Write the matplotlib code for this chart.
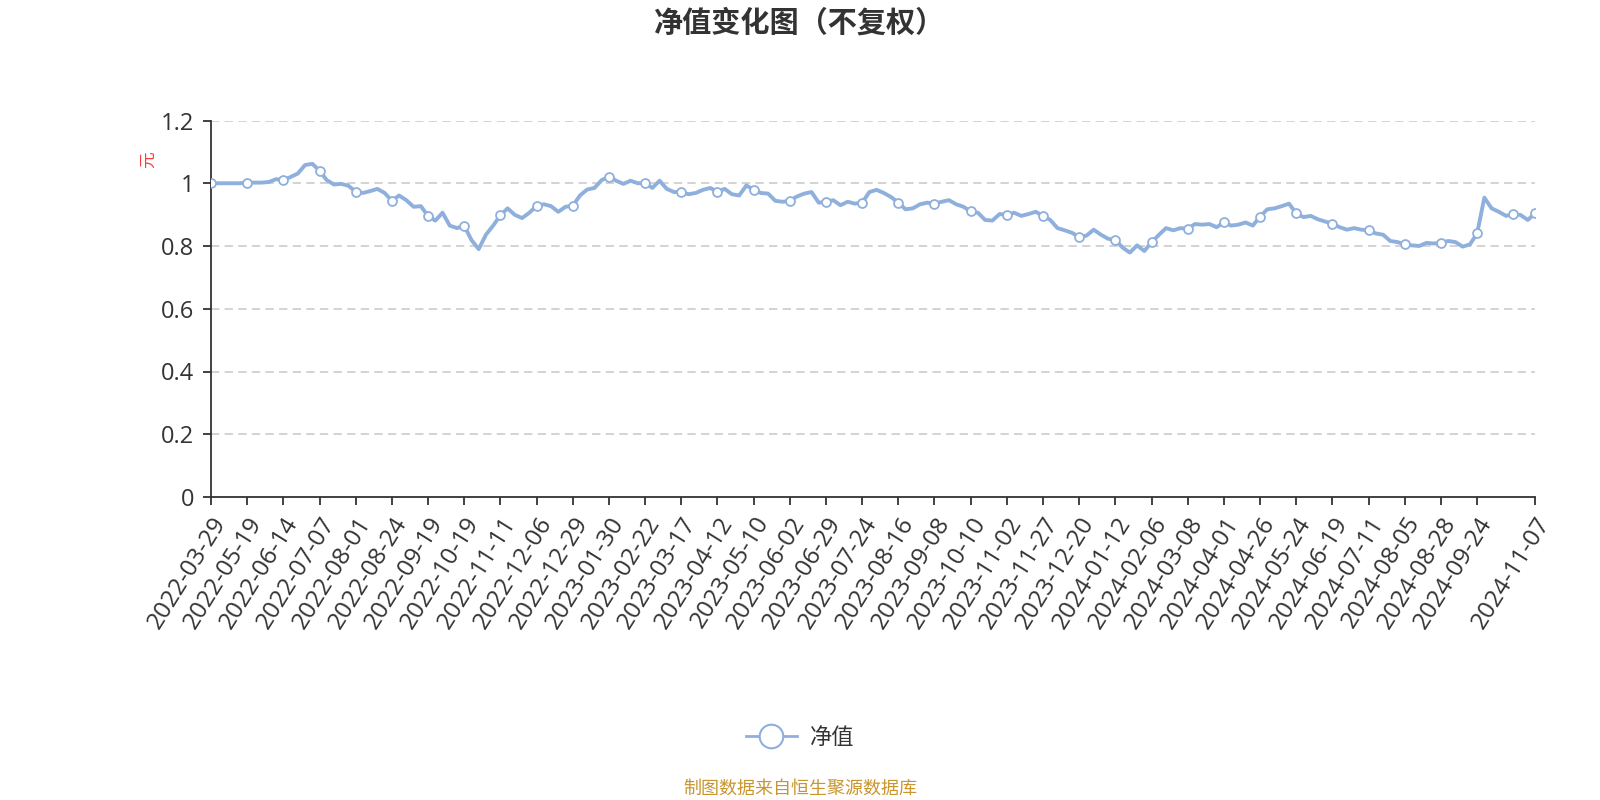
import matplotlib
matplotlib.use("Agg")
import matplotlib.pyplot as plt
from matplotlib.lines import Line2D
import numpy as np

plt.rcParams['font.family'] = ['Noto Sans CJK SC', 'DejaVu Sans']
plt.rcParams['lines.scale_dashes'] = False

title = "净值变化图（不复权）"
series_name = "净值"
y_unit = "元"
footer = "制图数据来自恒生聚源数据库"

tick_labels = [
    "2022-03-29", "2022-05-19", "2022-06-14", "2022-07-07", "2022-08-01", "2022-08-24",
    "2022-09-19", "2022-10-19", "2022-11-11", "2022-12-06", "2022-12-29", "2023-01-30",
    "2023-02-22", "2023-03-17", "2023-04-12", "2023-05-10", "2023-06-02", "2023-06-29",
    "2023-07-24", "2023-08-16", "2023-09-08", "2023-10-10", "2023-11-02", "2023-11-27",
    "2023-12-20", "2024-01-12", "2024-02-06", "2024-03-08", "2024-04-01", "2024-04-26",
    "2024-05-24", "2024-06-19", "2024-07-11", "2024-08-05", "2024-08-28", "2024-09-24",
    "2024-11-07",
]

nav = [
    1.0, 1.0, 1.0, 1.0, 1.0,
    1.002, 1.002, 1.002, 1.004, 1.013,
    1.01, 1.02, 1.031, 1.058, 1.062,
    1.04, 1.01, 0.996, 0.998, 0.992,
    0.973, 0.969, 0.975, 0.982, 0.969,
    0.944, 0.961, 0.946, 0.925, 0.927,
    0.896, 0.881, 0.906, 0.865, 0.857,
    0.865, 0.819, 0.79, 0.836, 0.865,
    0.898, 0.92, 0.899, 0.889, 0.906,
    0.928, 0.933, 0.927, 0.909, 0.925,
    0.928, 0.961, 0.98, 0.985, 1.01,
    1.021, 1.008, 0.998, 1.008, 1.0,
    1.001, 0.985, 1.008, 0.982, 0.972,
    0.972, 0.965, 0.969, 0.979, 0.985,
    0.973, 0.982, 0.965, 0.961, 0.993,
    0.979, 0.969, 0.967, 0.944, 0.941,
    0.944, 0.958, 0.967, 0.972, 0.938,
    0.941, 0.946, 0.93, 0.941, 0.935,
    0.938, 0.972, 0.979, 0.969, 0.956,
    0.938, 0.917, 0.92, 0.933, 0.938,
    0.935, 0.941, 0.946, 0.933, 0.925,
    0.91, 0.906, 0.883, 0.881, 0.902,
    0.899, 0.906, 0.896, 0.902, 0.909,
    0.896, 0.883, 0.857, 0.85, 0.842,
    0.829, 0.833, 0.852, 0.836, 0.823,
    0.819, 0.795, 0.779, 0.802, 0.784,
    0.812, 0.835, 0.857, 0.85, 0.857,
    0.855, 0.87, 0.868, 0.87, 0.86,
    0.875, 0.865, 0.868, 0.875, 0.865,
    0.894, 0.917, 0.92, 0.927, 0.935,
    0.904, 0.892, 0.896, 0.885, 0.878,
    0.871, 0.86, 0.852, 0.857, 0.852,
    0.85, 0.84, 0.836, 0.816, 0.8125,
    0.805, 0.802, 0.8, 0.81, 0.808,
    0.81, 0.816, 0.8125, 0.798, 0.805,
    0.84, 0.954, 0.92, 0.909, 0.896,
    0.902, 0.899, 0.883, 0.904,
]

y_ticks = [0, 0.2, 0.4, 0.6, 0.8, 1.0, 1.2]

line_color = '#8fb0dc'
text_color = '#333333'
tick_font = ['Open Sans', 'Noto Sans CJK SC']

n = len(nav)
x = np.arange(n)
step = 5
tick_pos = list(range(0, n - step + 1, step)) + [n - 1]
labels_all = []
for k, p in enumerate(tick_pos):
    if p == n - 1:
        labels_all.append(tick_labels[-1])
    elif k < len(tick_labels) - 1:
        labels_all.append(tick_labels[k])
    else:
        labels_all.append("")

fig = plt.figure(figsize=(16, 8), dpi=100)
ax = fig.add_axes([211 / 1600, 1 - 497 / 800, (1535 - 211) / 1600, (497 - 120.5) / 800])

for yv in y_ticks[1:]:
    ax.axhline(yv, color='#cccccc', lw=1.2, linestyle=(0, (6, 3.8)), zorder=1)

mark_idx = list(range(0, n, step)) + ([n - 1] if (n - 1) % step else [])
ax.plot(x, nav, color=line_color, lw=2.8, zorder=3, solid_joinstyle='round',
        marker='o', markevery=mark_idx, markersize=6.4, markerfacecolor='white',
        markeredgecolor=line_color, markeredgewidth=1.3)

ax.set_xlim(0, n - 1)
ax.set_ylim(0, 1.2)
ax.set_yticks(y_ticks)
ax.set_yticklabels([f"{v:g}" for v in y_ticks], family=tick_font, fontsize=17)
ax.set_xticks(tick_pos)
ax.set_xticklabels(labels_all, rotation=58, ha='right', va='top', rotation_mode='anchor',
                   family=tick_font, fontsize=17.5)

for s in ['top', 'right']:
    ax.spines[s].set_visible(False)
for s in ['left', 'bottom']:
    ax.spines[s].set_color(text_color)
    ax.spines[s].set_linewidth(1.3)
ax.tick_params(axis='both', colors=text_color, length=6, width=1.3)
ax.tick_params(axis='y', pad=6)
ax.tick_params(axis='x', pad=5)

fig.text(800 / 1600, 1 - 23 / 800, title, ha='center', va='center', fontsize=21,
         fontweight='bold', color=text_color)
fig.text(148 / 1600, 1 - 160 / 800, y_unit, ha='center', va='center', fontsize=12,
         color='#ff3b3b', rotation=90)

handle = Line2D([], [], color=line_color, lw=2, marker='o', markersize=17,
                markerfacecolor='white', markeredgecolor=line_color, markeredgewidth=1.5)
fig.legend([handle], [series_name], loc='center', bbox_to_anchor=(800 / 1600, 1 - 737 / 800),
           frameon=False, fontsize=16, handlelength=2.3, handletextpad=0.6,
           labelcolor=text_color)

fig.text(800 / 1600, 1 - 789 / 800, footer, ha='center', va='center', fontsize=13,
         color='#c8952e')

fig.savefig('out.png', dpi=100)
